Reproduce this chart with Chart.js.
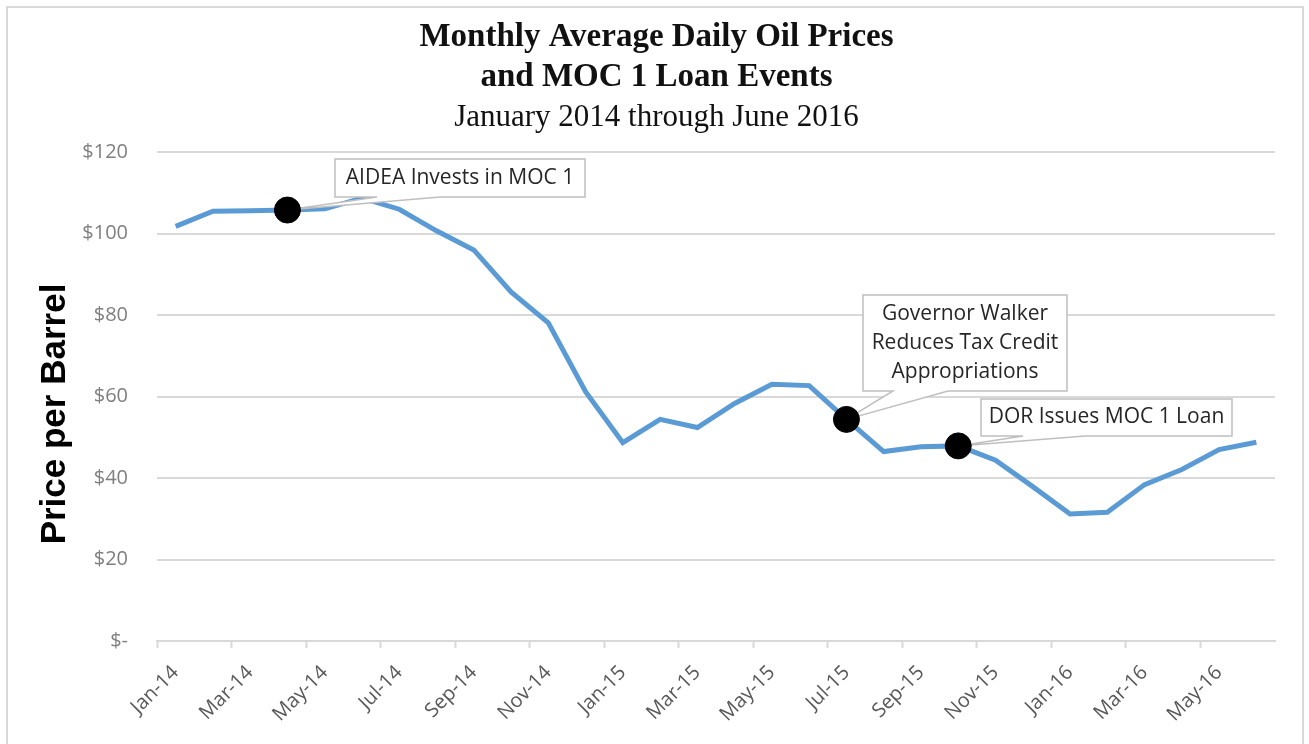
<!DOCTYPE html>
<html>
<head>
<meta charset="utf-8">
<script src="https://cdn.jsdelivr.net/npm/chart.js@4.4.1/dist/chart.umd.min.js"></script>
<style>
  html, body { margin: 0; padding: 0; background: #fff; }
  #wrap { position: relative; width: 1309px; height: 744px; }
</style>
</head>
<body>
<div id="wrap"><canvas id="chart"></canvas></div>
<script>
// monthly average daily oil price, $ per barrel
const months = [
  'Jan-14', 'Feb-14', 'Mar-14', 'Apr-14', 'May-14', 'Jun-14', 'Jul-14', 'Aug-14', 'Sep-14', 'Oct-14', 'Nov-14', 'Dec-14',
  'Jan-15', 'Feb-15', 'Mar-15', 'Apr-15', 'May-15', 'Jun-15', 'Jul-15', 'Aug-15', 'Sep-15', 'Oct-15', 'Nov-15', 'Dec-15',
  'Jan-16', 'Feb-16', 'Mar-16', 'Apr-16', 'May-16', 'Jun-16'
];
const prices = [
  101.8, 105.5, 105.6, 105.8, 106.1, 108.7, 106.0, 100.7, 96.0, 85.7, 78.1, 61.2,
  48.7, 54.4, 52.4, 58.3, 63.0, 62.7, 54.4, 46.5, 47.7, 47.9, 44.4, 37.9,
  31.2, 31.6, 38.4, 42.1, 47.0, 48.8
];

// MOC 1 loan events
const eventMonths = ['Apr-14', 'Jul-15', 'Oct-15'];
const eventLabels = [
  ['AIDEA Invests in MOC 1'],
  ['Governor Walker', 'Reduces Tax Credit', 'Appropriations'],
  ['DOR Issues MOC 1 Loan']
];

const yTicks = [0, 20, 40, 60, 80, 100, 120];

const eventPoints = eventMonths.map(m => ({ x: m, y: prices[months.indexOf(m)] }));

// callout boxes with a wedge pointing to each event dot
const calloutPlugin = {
  id: 'callouts',
  beforeDraw(chart) {
    const ctx = chart.ctx;
    ctx.save();
    ctx.strokeStyle = '#d9d9d9';
    ctx.lineWidth = 2;
    ctx.beginPath();
    ctx.moveTo(7, 760);
    ctx.lineTo(7, 7);
    ctx.lineTo(1303, 7);
    ctx.lineTo(1303, 760);
    ctx.stroke();
    ctx.restore();
  },
  beforeDatasetDraw(chart, args, opts) {
    if (args.index !== 1) return;
    const ctx = chart.ctx;
    const pts = chart.getDatasetMeta(1).data;
    opts.boxes.forEach((b, i) => {
      const p = pts[i];
      ctx.save();
      ctx.beginPath();
      ctx.moveTo(b.left, b.top);
      ctx.lineTo(b.right, b.top);
      ctx.lineTo(b.right, b.bottom);
      ctx.lineTo(b.baseTo, b.bottom);
      ctx.lineTo(p.x, p.y);
      ctx.lineTo(b.baseFrom, b.bottom);
      ctx.lineTo(b.left, b.bottom);
      ctx.closePath();
      ctx.fillStyle = '#ffffff';
      ctx.fill();
      ctx.strokeStyle = '#bfbfbf';
      ctx.lineWidth = 1.5;
      ctx.stroke();

      ctx.fillStyle = '#262626';
      ctx.font = '21px "Open Sans"';
      ctx.textAlign = 'center';
      ctx.textBaseline = 'middle';
      const lines = eventLabels[i];
      const cx = (b.left + b.right) / 2;
      const cy = (b.top + b.bottom) / 2;
      lines.forEach((t, k) => {
        ctx.fillText(t, cx, cy + (k - (lines.length - 1) / 2) * 29);
      });
      ctx.restore();
    });
  },
  afterDraw(chart) {
    // y axis title sits a bit below the axis centre, as in the original
    const ctx = chart.ctx;
    ctx.save();
    ctx.translate(55, 414);
    ctx.rotate(-Math.PI / 2);
    ctx.fillStyle = '#000';
    ctx.font = 'bold 35px "Liberation Sans"';
    ctx.textAlign = 'center';
    ctx.textBaseline = 'middle';
    ctx.fillText('Price per Barrel', 0, 0);
    ctx.restore();
  }
};

new Chart(document.getElementById('chart'), {
  type: 'line',
  data: {
    labels: months,
    datasets: [
      {
        label: 'Oil price',
        data: prices,
        borderColor: '#5b9bd5',
        borderWidth: 5,
        pointRadius: 0,
        tension: 0,
        fill: false,
        order: 2
      },
      {
        label: 'Events',
        data: eventPoints,
        showLine: false,
        pointRadius: 13,
        pointHoverRadius: 13,
        pointBackgroundColor: '#000',
        pointBorderColor: '#000',
        order: 1
      }
    ]
  },
  options: {
    responsive: true,
    maintainAspectRatio: false,
    animation: false,
    layout: { padding: { left: 38, right: 34, top: 0, bottom: 0 } },
    plugins: {
      legend: { display: false },
      tooltip: { enabled: false },
      title: {
        display: true,
        text: ['Monthly Average Daily Oil Prices', 'and MOC 1 Loan Events'],
        color: '#111',
        font: { family: '"Liberation Serif"', size: 33, weight: 'bold', lineHeight: 1.212 },
        padding: { top: 17, bottom: 2 }
      },
      subtitle: {
        display: true,
        text: 'January 2014 through June 2016',
        color: '#111',
        font: { family: '"Liberation Serif"', size: 31, weight: 'normal', lineHeight: 1.2 },
        padding: { top: 0, bottom: 16 }
      },
      callouts: {
        boxes: [
          { left: 335, top: 159, right: 585, bottom: 197, baseFrom: 377, baseTo: 440 },
          { left: 863, top: 295, right: 1067, bottom: 391, baseFrom: 893, baseTo: 948 },
          { left: 981, top: 399, right: 1232, bottom: 436, baseFrom: 1023, baseTo: 1085 }
        ]
      }
    },
    scales: {
      x: {
        offset: true,
        grid: {
          offset: true,
          drawOnChartArea: false,
          drawTicks: true,
          tickLength: 7,
          tickWidth: 2,
          tickColor: (c) => (c.index % 2 === 0 ? '#d9d9d9' : 'rgba(0,0,0,0)')
        },
        border: { color: '#d9d9d9', width: 2 },
        ticks: {
          autoSkip: false,
          minRotation: 45,
          maxRotation: 45,
          padding: 13,
          color: '#595959',
          font: { family: '"Open Sans"', size: 20 },
          callback: function (v, i) { return i % 2 === 0 ? this.getLabelForValue(v) : ''; }
        },
        afterFit: (s) => { s.height = 103; }
      },
      y: {
        min: 0,
        max: 120,
        afterBuildTicks: (s) => { s.ticks = yTicks.map(v => ({ value: v })); },
        grid: { color: '#d9d9d9', lineWidth: 2, drawTicks: false },
        border: { display: false },
        ticks: {
          padding: 29,
          color: '#7f7f7f',
          font: { family: '"Open Sans"', size: 20 },
          callback: (v) => (v === 0 ? '$-' : '$' + v)
        },
        afterFit: (s) => { s.width = 119; }
      }
    }
  },
  plugins: [calloutPlugin]
});
</script>
</body>
</html>
